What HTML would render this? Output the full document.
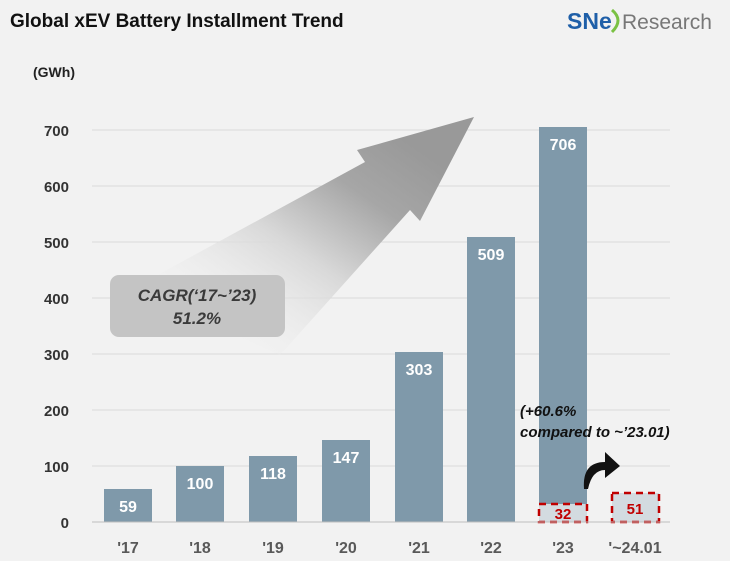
<!DOCTYPE html>
<html><head><meta charset="utf-8"><style>
body{margin:0;width:749px;height:561px;background:#fff;overflow:hidden;font-family:"Liberation Sans",sans-serif}
</style></head><body>
<svg width="749" height="561" xmlns="http://www.w3.org/2000/svg" font-family="Liberation Sans, sans-serif">
<defs>
<linearGradient id="ag" x1="0.2" y1="0.9" x2="0.9" y2="0.2">
<stop offset="0" stop-color="#f2f2f2" stop-opacity="0"/>
<stop offset="0.45" stop-color="#d8d8d8"/>
<stop offset="0.75" stop-color="#a6a6a6"/>
<stop offset="1" stop-color="#999"/>
</linearGradient>
</defs>
<rect x="0" y="0" width="730" height="561" fill="#f2f2f2"/>
<text x="10" y="27" font-size="19" font-weight="bold" fill="#111">Global xEV Battery Installment Trend</text>
<text x="567" y="29" font-size="23" font-weight="bold" fill="#1f5fa8">SNe</text>
<path d="M612 10 Q624 20 612 32" fill="none" stroke="#7ac143" stroke-width="3"/>
<text x="622" y="29" font-size="21" fill="#777">Research</text>
<text x="33" y="77" font-size="14" font-weight="bold" fill="#222">(GWh)</text>
<g stroke="#d9d9d9" stroke-width="1">
<line x1="92" y1="130" x2="670" y2="130"/><line x1="92" y1="186" x2="670" y2="186"/>
<line x1="92" y1="242" x2="670" y2="242"/><line x1="92" y1="298" x2="670" y2="298"/>
<line x1="92" y1="354" x2="670" y2="354"/><line x1="92" y1="410" x2="670" y2="410"/>
<line x1="92" y1="466" x2="670" y2="466"/><line x1="92" y1="522" x2="670" y2="522"/>
</g>
<g font-size="15" font-weight="bold" fill="#333" text-anchor="end">
<text x="69" y="136">700</text><text x="69" y="192">600</text><text x="69" y="248">500</text>
<text x="69" y="304">400</text><text x="69" y="360">300</text><text x="69" y="416">200</text>
<text x="69" y="472">100</text><text x="69" y="528">0</text>
</g>
<path d="M130 290 L365 162 L357 150 L474 117 L420 221 L410 210 L280 355 Z" fill="url(#ag)"/>
<rect x="110" y="275" width="175" height="62" rx="9" fill="#c4c4c4"/>
<g font-size="17" font-weight="bold" font-style="italic" fill="#3a3a3a" text-anchor="middle">
<text x="197" y="301">CAGR(‘17~’23)</text><text x="197" y="324">51.2%</text></g>
<g fill="#7f99aa">
<rect x="104" y="489" width="48" height="33"/><rect x="176" y="466" width="48" height="56"/>
<rect x="249" y="456" width="48" height="66"/><rect x="322" y="440" width="48" height="82"/>
<rect x="395" y="352" width="48" height="170"/><rect x="467" y="237" width="48" height="285"/>
<rect x="539" y="127" width="48" height="377"/>
</g>
<g font-size="16" font-weight="bold" fill="#fff" text-anchor="middle">
<text x="128" y="512">59</text><text x="200" y="489">100</text><text x="273" y="479">118</text>
<text x="346" y="463">147</text><text x="419" y="375">303</text><text x="491" y="260">509</text>
<text x="563" y="150">706</text></g>
<rect x="539" y="504" width="48" height="18" fill="#d3dbe0" stroke="#c00000" stroke-width="2.5" stroke-dasharray="7,5"/>
<rect x="612" y="493" width="47" height="29" fill="#d3dbe0" stroke="#c00000" stroke-width="2.5" stroke-dasharray="7,5"/>
<g font-size="15" font-weight="bold" fill="#c00000" text-anchor="middle">
<text x="563" y="519">32</text><text x="635" y="514">51</text></g>
<g stroke="#bfbfbf"><line x1="92" y1="522" x2="670" y2="522"/></g>
<g font-size="15" font-weight="bold" font-style="italic" fill="#111">
<text x="520" y="416">(+60.6%</text><text x="520" y="437">compared to ~’23.01)</text></g>
<path d="M584 489 Q582 462 605 462 L605 452 L620 466 L605 478 L605 470 Q592 470 588 489 Z" fill="#111"/>
<g font-size="16" font-weight="bold" fill="#595959" text-anchor="middle">
<text x="128" y="553">'17</text><text x="200" y="553">'18</text><text x="273" y="553">'19</text>
<text x="346" y="553">'20</text><text x="419" y="553">'21</text><text x="491" y="553">'22</text>
<text x="563" y="553">'23</text><text x="635" y="553">'~24.01</text></g>
</svg>
</body></html>
